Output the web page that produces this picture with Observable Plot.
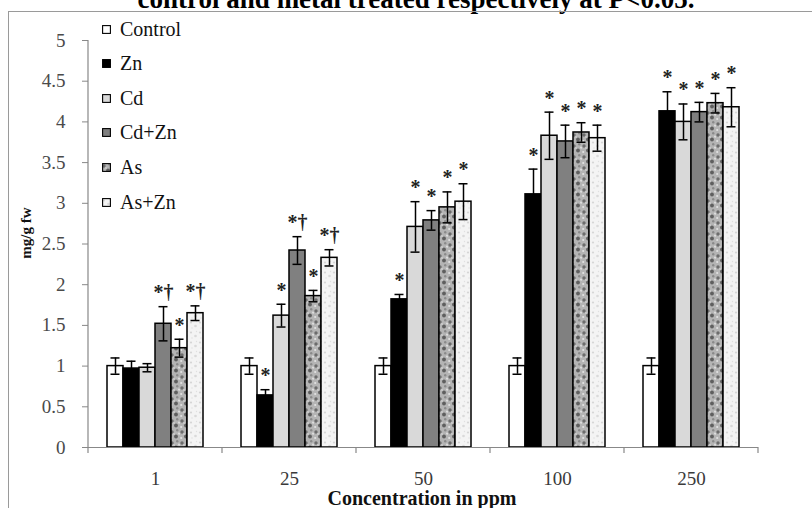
<!DOCTYPE html>
<html><head><meta charset="utf-8">
<script src="https://cdn.jsdelivr.net/npm/d3@7"></script>
<script src="https://cdn.jsdelivr.net/npm/@observablehq/plot@0.6"></script>
<style>
html,body{margin:0;padding:0;background:#fff;overflow:hidden}
#wrap{position:relative;width:812px;height:508px;overflow:hidden;font-family:"Liberation Serif","Times New Roman",serif;background:#fff}
#frame{position:absolute;left:8px;top:11px;width:830px;height:530px;border-left:1.5px solid #9a9a9a;border-top:1.5px solid #9a9a9a}
#title{position:absolute;left:0;width:832px;top:-14px;text-align:center;font-weight:bold;font-size:27px;line-height:27px;white-space:nowrap;color:#000}
#chart{position:absolute;left:0;top:0}
#legend{position:absolute;left:102px;top:12px}
.lrow{position:absolute;left:0;height:34px;display:flex;align-items:center;font-size:20px;white-space:nowrap;color:#111}
.lrow svg{margin-right:9px}
#xlabel{position:absolute;left:0;width:844px;top:489px;text-align:center;font-weight:bold;font-size:20px;line-height:18px;color:#111}
#ylabel{position:absolute;left:26px;top:233px;transform:translate(-50%,-50%) rotate(-90deg);font-weight:bold;font-size:15px;white-space:nowrap;color:#111}
</style>
</head><body>
<svg width="0" height="0" style="position:absolute">
<defs>
<pattern id="pAs" patternUnits="userSpaceOnUse" width="10" height="11">
<rect width="10" height="11" fill="#b4b4b4"/>
<circle cx="2" cy="3" r="1.7" fill="#6c6c6c"/>
<circle cx="7.2" cy="1.3" r="1.2" fill="#8a8a8a"/>
<circle cx="6" cy="7.5" r="1.9" fill="#5f5f5f"/>
<circle cx="1.2" cy="9" r="1.1" fill="#e2e2e2"/>
<circle cx="9" cy="4.6" r="1.1" fill="#dcdcdc"/>
<circle cx="4" cy="5" r="0.9" fill="#d0d0d0"/>
</pattern>
<pattern id="pAsZn" patternUnits="userSpaceOnUse" width="9" height="10">
<rect width="9" height="10" fill="#f4f4f4"/>
<circle cx="2" cy="2.5" r="1.1" fill="#d6d6d6"/>
<circle cx="6.5" cy="6" r="1.3" fill="#dadada"/>
<circle cx="3" cy="8" r="0.8" fill="#e2e2e2"/>
<circle cx="7.5" cy="1.5" r="0.7" fill="#e0e0e0"/>
</pattern>
</defs>
</svg>
<div id="wrap">
<div id="title">control and metal treated respectively at P&lt;0.05.</div>
<div id="frame"></div>
<div id="chart"></div>
<div id="legend"></div>
<div id="xlabel">Concentration in ppm</div>
<div id="ylabel">mg/g fw</div>
</div>
<script>
// ---- data ----
const concentrations = ["1", "25", "50", "100", "250"];
const series = ["Control", "Zn", "Cd", "Cd+Zn", "As", "As+Zn"];
const fills = ["#ffffff", "#000000", "#d9d9d9", "#808080", "url(#pAs)", "url(#pAsZn)"];

const controlVals = [1.00, 1.00, 1.00, 1.00, 1.00];
const znVals      = [0.97, 0.64, 1.82, 3.11, 4.13];
const cdVals      = [0.98, 1.62, 2.71, 3.83, 4.00];
const cdznVals    = [1.52, 2.42, 2.79, 3.76, 4.12];
const asVals      = [1.22, 1.86, 2.95, 3.87, 4.23];
const asznVals    = [1.65, 2.33, 3.02, 3.80, 4.18];

const controlErr = [0.10, 0.10, 0.10, 0.10, 0.10];
const znErr      = [0.09, 0.07, 0.06, 0.31, 0.24];
const cdErr      = [0.05, 0.14, 0.31, 0.29, 0.22];
const cdznErr    = [0.21, 0.17, 0.12, 0.20, 0.12];
const asErr      = [0.11, 0.07, 0.19, 0.12, 0.12];
const asznErr    = [0.09, 0.10, 0.22, 0.16, 0.24];

const controlSig = ["", "", "", "", ""];
const znSig      = ["", "*", "*", "*", "*"];
const cdSig      = ["", "*", "*", "*", "*"];
const cdznSig    = ["*†", "*†", "*", "*", "*"];
const asSig      = ["*", "*", "*", "*", "*"];
const asznSig    = ["*†", "*†", "*", "*", "*"];

const yTicks = [0, 0.5, 1, 1.5, 2, 2.5, 3, 3.5, 4, 4.5, 5];

// ---- build table ----
const valsBy = [controlVals, znVals, cdVals, cdznVals, asVals, asznVals];
const errBy = [controlErr, znErr, cdErr, cdznErr, asErr, asznErr];
const sigBy = [controlSig, znSig, cdSig, cdznSig, asSig, asznSig];
const rows = [];
concentrations.forEach((c, i) => {
  series.forEach((s, j) => {
    rows.push({conc: c, series: s, value: valsBy[j][i], err: errBy[j][i], sig: sigBy[j][i]});
  });
});
const sigRows = rows.filter(d => d.sig);

const plot = Plot.plot({
  width: 812, height: 508,
  marginLeft: 88, marginRight: 54, marginTop: 40, marginBottom: 61,
  style: {background: "transparent", fontFamily: "'Liberation Serif', 'Times New Roman', serif", fontSize: "19px", overflow: "visible"},
  fx: {domain: concentrations, padding: 0, label: null},
  x: {domain: series, paddingInner: 0, paddingOuter: 1.14, axis: null},
  y: {domain: [0, 5], label: null},
  color: {domain: series, range: fills},
  marks: [
    Plot.axisY({ticks: yTicks, tickFormat: d => String(d), tickSize: 6, tickPadding: 17, stroke: "#888", fill: "#4a4a4a", fontSize: 19, label: null}),
    Plot.axisFx({anchor: "bottom", tickSize: 0, tickPadding: 24, fill: "#3a3a3a", fontSize: 19, label: null}),
    Plot.barY(rows, {fx: "conc", x: "series", y: "value", fill: "series", stroke: "#000", strokeWidth: 1.5, inset: 0}),
    Plot.ruleY([0], {stroke: "#888", strokeWidth: 1.2}),
    Plot.ruleX(rows, {fx: "conc", x: "series", y1: d => d.value - d.err, y2: d => d.value + d.err, stroke: "#000", strokeWidth: 1.5}),
    Plot.tickY(rows, {fx: "conc", x: "series", y: d => d.value - d.err, stroke: "#000", strokeWidth: 1.5, insetLeft: 3.5, insetRight: 3.5}),
    Plot.tickY(rows, {fx: "conc", x: "series", y: d => d.value + d.err, stroke: "#000", strokeWidth: 1.5, insetLeft: 3.5, insetRight: 3.5}),
    Plot.text(sigRows, {fx: "conc", x: "series", y: d => d.value + d.err, text: "sig", dy: -14, fontSize: 20, fontWeight: "bold", fill: "#222"})
  ]
});
document.getElementById("chart").appendChild(plot);

// axis line and facet boundary ticks through Plot's own scales
const fx = plot.scale("fx");
const ys = plot.scale("y");
const svg = d3.select(plot);
const y0 = ys.apply(0), y5 = ys.apply(5);
let lefts = fx.domain.map(d => fx.apply(d));
const bw = fx.bandwidth;
let off = 0;
if (lefts[0] < 40) off = 88; // in case facet scale is relative to the frame
const bounds = lefts.map(v => v + off).concat([lefts[lefts.length - 1] + off + bw]);
const g = svg.append("g").attr("stroke", "#888").attr("stroke-width", 1.2);
g.append("line").attr("x1", bounds[0]).attr("x2", bounds[0]).attr("y1", y5).attr("y2", y0);
bounds.forEach(b => g.append("line").attr("x1", b).attr("x2", b).attr("y1", y0).attr("y2", y0 + 6));

// legend
const legend = document.getElementById("legend");
series.forEach((s, j) => {
  const row = document.createElement("div");
  row.className = "lrow";
  row.style.top = (j * 34.6) + "px";
  row.innerHTML = `<svg width="9" height="9"><rect x="0.6" y="0.6" width="7.8" height="7.8" fill="${fills[j]}" stroke="#000" stroke-width="1.1"/></svg><span>${s}</span>`;
  legend.appendChild(row);
});
</script>
</body></html>
